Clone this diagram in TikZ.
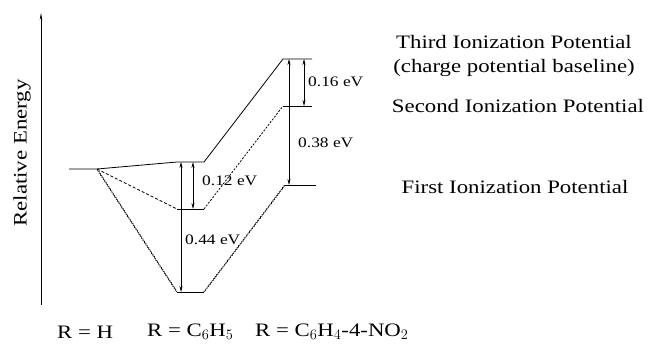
\documentclass[tikz,border=0pt]{standalone}
\usepackage{fontspec}
\setmainfont[FakeStretch=1.2]{Liberation Serif}
\usetikzlibrary{arrows.meta,decorations.pathmorphing}
\begin{document}
\begin{tikzpicture}[
    x=1pt, y=-1pt,
    lv/.style={line width=0.8pt},
    dsh/.style={lv, dash pattern=on 3pt off 2pt},
    dtt/.style={lv, dash pattern=on 2pt off 1.5pt},
    zz/.style={line width=0.6pt, decorate, decoration={zigzag, amplitude=0.5pt, segment length=2.6pt}},
    dm/.style={{Stealth[length=6pt,width=3pt]}-{Stealth[length=6pt,width=3pt]}, line width=0.6pt},
    ax/.style={-{Stealth[length=7pt,width=2.5pt]}, line width=0.6pt},
    ev/.style={anchor=west, inner sep=0pt, font=\fontsize{14.5}{16}\selectfont},
    lb/.style={inner sep=0pt, font=\fontsize{19}{22}\selectfont},
]
    \useasboundingbox (0,0) rectangle (649,351);
    \coordinate (y0) at (41,305);
    \coordinate (y1) at (41,13);
    \coordinate (hL) at (69,169);
    \coordinate (hR) at (97,169);
    \coordinate (bT) at (177,162);
    \coordinate (bTr) at (204,162);
    \coordinate (bS) at (177,209);
    \coordinate (bSr) at (204,209);
    \coordinate (bF) at (177,292);
    \coordinate (bFr) at (204,292);
    \coordinate (nT) at (283,59);
    \coordinate (nTr) at (312,59);
    \coordinate (nS) at (283,106);
    \coordinate (nSr) at (312,106);
    \coordinate (nF) at (285,185);
    \coordinate (nFr) at (316,185);
    \coordinate (a1t) at (181,162);
    \coordinate (a1b) at (181,292);
    \coordinate (a2t) at (193,162);
    \coordinate (a2b) at (193,209);
    \coordinate (a3t) at (289,59);
    \coordinate (a3b) at (289,185);
    \coordinate (a4t) at (304,59);
    \coordinate (a4b) at (304,106);

    \draw[ax] (y0) -- (y1);
    \node[lb, rotate=90] (ylab) at (22,153) {Relative Energy};

    \draw[lv] (hL) -- (hR) -- (bT) -- (bTr) -- (nT) -- (nTr);
    \draw[dsh] (hR) -- (bS);
    \draw[lv] (bS) -- (bSr);
    \draw[dtt] (bSr) -- (nS);
    \draw[lv] (nS) -- (nSr);
    \draw[zz] (hR) -- (bF);
    \draw[lv] (bF) -- (bFr);
    \draw[zz] (bFr) -- (nF);
    \draw[lv] (nF) -- (nFr);

    \draw[dm] (a1t) -- (a1b);
    \draw[dm] (a2t) -- (a2b);
    \draw[dm] (a3t) -- (a3b);
    \draw[dm] (a4t) -- (a4b);
    \node[ev] (e44) at (185,240) {0.44 eV};
    \node[ev] (e12) at (202,181) {0.12 eV};
    \node[ev] (e38) at (298,143) {0.38 eV};
    \node[ev] (e16) at (308,82) {0.16 eV};

    \node[lb] (third) at (514,42) {Third Ionization Potential};
    \node[lb] (base) at (514,68) {(charge potential baseline)};
    \node[lb] (second) at (518,106) {Second Ionization Potential};
    \node[lb] (first) at (515,187) {First Ionization Potential};

    \node[lb, anchor=west] (rh) at (57,332) {R = H};
    \node[lb, anchor=west] (rph) at (147,332) {R = C$_6$H$_5$};
    \node[lb, anchor=west] (rno) at (255,332) {R = C$_6$H$_4$-4-NO$_2$};
\end{tikzpicture}
\end{document}
